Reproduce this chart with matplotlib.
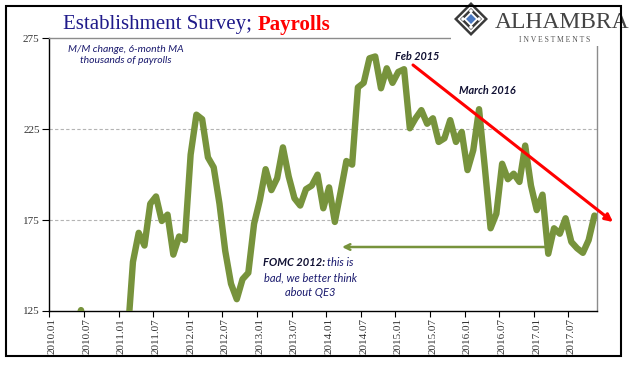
import matplotlib
matplotlib.use('Agg')
import matplotlib.pyplot as plt
from matplotlib.patches import Rectangle, Polygon

# 6-month moving average of monthly payroll change (thousands), 2010.01 - 2017.11
payrolls = [40, 55, 80, 100, 115, 125.5, 105, 85, 70, 60, 80, 90, 95, 108,
            152, 168, 161, 184, 188, 174.5, 178, 156, 166, 164,
            211, 233, 230.5, 209.5, 204, 184, 158, 140, 131.5, 142.5, 146, 173,
            186, 203, 191.5, 198, 215, 199, 187, 183, 192, 194, 200, 181.5,
            193, 174, 190.5, 207.5, 205.5, 248, 250.5, 264, 265, 247.5, 258.5, 250.5,
            256.5, 258, 225.5, 231, 235.5, 228, 231, 218, 220, 230, 218, 223.5,
            202.5, 213.5, 236, 204, 170.5, 178.5, 206, 197.5, 200.5, 196, 216, 194,
            180.5, 189, 156.5, 170.5, 167.5, 176, 163, 159.5, 157, 164, 177.5]
tick_labels = ['2010.01', '2010.07', '2011.01', '2011.07', '2012.01', '2012.07',
               '2013.01', '2013.07', '2014.01', '2014.07', '2015.01', '2015.07',
               '2016.01', '2016.07', '2017.01', '2017.07']
y_ticks = [125, 175, 225, 275]

W, H = 641, 375
GREEN = '#77933C'
NAVY = '#1a1a6e'


def P(x, y):
    # figure pixel (from top-left) -> figure fraction
    return (x / W, 1 - y / H)


fig = plt.figure(figsize=(W / 100, H / 100), dpi=100)
ax = fig.add_axes([49.3 / W, 1 - 311 / H, (597.3 - 49.3) / W, (311 - 38.3) / H])

n = len(payrolls)
ax.plot(range(n), payrolls, color=GREEN, lw=4.6, solid_joinstyle='round',
        solid_capstyle='round', zorder=3)
ax.set_xlim(-0.5, n - 0.5)
ax.set_ylim(125, 275)

for v in y_ticks[1:3]:
    ax.axhline(v, color='#b4b4b4', lw=0.8, dashes=(3, 2), zorder=1)

ax.spines['left'].set_color('black')
ax.spines['bottom'].set_color('black')
ax.spines['top'].set_color('#8c8c8c')
ax.spines['right'].set_color('#8c8c8c')
for s in ax.spines.values():
    s.set_linewidth(1)

ax.set_yticks(y_ticks)
ax.set_yticklabels([str(v) for v in y_ticks], fontfamily='Liberation Serif',
                   fontsize=8, color='#333333')
ax.tick_params(axis='y', direction='out', length=5, width=0.8, pad=2)

label_pos = list(range(0, 6 * len(tick_labels), 6))
ax.set_xticks(label_pos)
ax.set_xticklabels(tick_labels, rotation=90, fontfamily='Liberation Serif',
                   fontsize=8, color='#333333')
ax.set_xticks([p - 0.5 for p in label_pos], minor=True)
ax.tick_params(axis='x', which='major', length=0, pad=5)
ax.tick_params(axis='x', which='minor', direction='out', length=4, width=0.8)

# title, two colours
t1 = fig.text(*P(63, 25), 'Establishment Survey; ', fontfamily='Liberation Serif',
              fontsize=15, color='#1f1a8a', ha='left', va='center')
r = fig.canvas.get_renderer()
bb = t1.get_window_extent(renderer=r)
fig.text(bb.x1 / W, 1 - 25 / H, 'Payrolls', fontfamily='Liberation Serif',
         fontsize=15, color='#ff0000', fontweight='bold', ha='left', va='center')

# subtitle
fig.text(*P(126, 55), 'M/M change, 6-month MA\nthousands of payrolls',
         fontfamily='Lato', style='italic', fontsize=7.5, color=NAVY,
         ha='center', va='center', linespacing=1.4)

# annotations
fig.text(*P(417, 56), 'Feb 2015', fontfamily='Lato', style='italic',
         fontweight='bold', fontsize=7.8, color='#111133', ha='center', va='center')
fig.text(*P(487, 90), 'March 2016', fontfamily='Lato', style='italic',
         fontweight='bold', fontsize=7.8, color='#111133', ha='center', va='center')

f1 = fig.text(*P(263, 263), 'FOMC 2012:', fontfamily='Lato', style='italic',
              fontweight='bold', fontsize=8, color='#111133', ha='left', va='center')
bb = f1.get_window_extent(renderer=r)
fig.text(bb.x1 / W + 2 / W, 1 - 263 / H, 'this is', fontfamily='Lato', style='italic',
         fontsize=8, color=NAVY, ha='left', va='center')
fig.text(*P(310, 277.5), 'bad, we better think', fontfamily='Lato', style='italic',
         fontsize=8, color=NAVY, ha='center', va='center')
fig.text(*P(310, 292), 'about QE3', fontfamily='Lato', style='italic',
         fontsize=8, color=NAVY, ha='center', va='center')

# arrows
ax.annotate('', xy=P(613, 222), xytext=P(413, 65), xycoords='figure fraction',
            textcoords='figure fraction', annotation_clip=False,
            arrowprops=dict(arrowstyle='-|>', color='#ff0000', lw=2.2,
                            mutation_scale=11, shrinkA=0, shrinkB=0))
ax.annotate('', xy=P(342, 247), xytext=P(547, 247), xycoords='figure fraction',
            textcoords='figure fraction', annotation_clip=False,
            arrowprops=dict(arrowstyle='->', color=GREEN, lw=1.8,
                            mutation_scale=10, shrinkA=0, shrinkB=0))

# logo area
fig.add_artist(Rectangle(P(451, 46), 160 / W, 38 / H, transform=fig.transFigure,
                         facecolor='white', edgecolor='none', zorder=5))


def diamond(cx, cy, r, color):
    pts = [P(cx, cy - r), P(cx + r, cy), P(cx, cy + r), P(cx - r, cy)]
    fig.add_artist(Polygon(pts, closed=True, transform=fig.transFigure,
                           facecolor=color, edgecolor='none', zorder=6))


diamond(471, 19, 17, '#3a3a3a')
diamond(471, 19, 13.5, 'white')
diamond(471, 19, 11, '#3a3a3a')
diamond(471, 19, 7.5, 'white')
diamond(471, 19, 5, '#4a78c0')
for dx, dy in [(-8, 0), (8, 0), (0, -8), (0, 8)]:
    diamond(471 + dx, 19 + dy, 2.2, 'white')

fig.text(*P(562, 22), 'ALHAMBRA', fontfamily='Liberation Serif', fontsize=17,
         color='#444444', ha='center', va='center', zorder=7)
fig.text(*P(555, 40), 'I N V E S T M E N T S', fontfamily='Liberation Serif',
         fontsize=5.5, color='#555555', ha='center', va='center', zorder=7)

# outer frame
fig.add_artist(Rectangle(P(6, 356), 615 / W, 350 / H, transform=fig.transFigure,
                         facecolor='none', edgecolor='black', lw=1.5, zorder=8))

fig.savefig('out.png', dpi=100)
